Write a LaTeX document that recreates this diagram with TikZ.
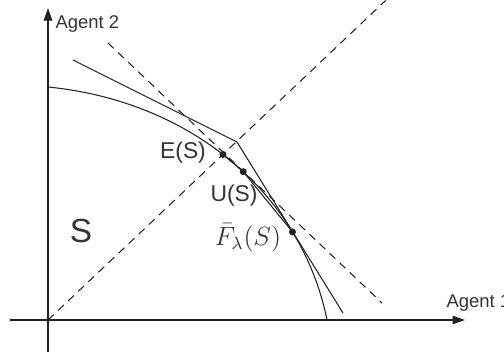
\documentclass[tikz,border=0pt]{standalone}
\usepackage{fontspec}
\setmainfont{Liberation Sans}
\usepackage{graphicx}
\usepackage{xcolor}
\usetikzlibrary{arrows.meta,positioning,calc}
\definecolor{inkgray}{HTML}{222222}
\definecolor{textgray}{HTML}{333333}

\begin{document}
\begin{tikzpicture}[
  >={Triangle[length=0.25cm,width=0.17cm]},
  line width=0.6pt,
  axis/.style={->, draw=inkgray, line width=0.8pt},
  frontier/.style={draw=inkgray, line width=0.6pt},
  guide/.style={draw=inkgray, line width=0.6pt, dash pattern=on 4.5pt off 3.4pt},
  pointdot/.style={circle, fill=inkgray, inner sep=0pt, minimum size=0.14cm},
  axislabel/.style={font=\fontsize{10.5}{12}\selectfont, text=textgray, anchor=west, inner sep=0pt},
  ptlabel/.style={font=\fontsize{13}{15}\selectfont, text=textgray, inner sep=0pt}
]
  \useasboundingbox (0,0) rectangle (10.08,7.12);
  \coordinate (O) at (0.96,0.72);
  \coordinate (xstart) at (0.20,0.72);
  \coordinate (xend) at (9.30,0.72);
  \coordinate (ystart) at (0.96,0.08);
  \coordinate (yend) at (0.96,6.96);
  \draw[axis] (xstart) -- (xend);
  \draw[axis] (ystart) -- (yend);
  \node[axislabel] (agent1) at (8.92,1.06) {Agent 1};
  \node[axislabel] (agent2) at (1.10,6.64) {Agent 2};

  \coordinate (sy) at (0.96,5.38);
  \coordinate (sx) at (6.54,0.72);
  \draw[frontier] (sy) .. controls (3.96,5.08) and (6.06,3.12) .. (sx)
    coordinate[pos=0.46] (E) coordinate[pos=0.53] (U) coordinate[pos=0.74] (F);

  \coordinate (k1) at (1.46,5.92);
  \coordinate (kink) at (4.74,4.28);
  \coordinate (k2) at (6.86,0.86);
  \draw[frontier] (k1) -- (kink) -- (k2);

  \coordinate (t1) at (2.16,6.26);
  \coordinate (t2) at (7.64,1.06);
  \draw[guide] (O) -- ($(O)!1.93!(E)$);
  \draw[guide] (t1) -- (t2);

  \draw[frontier] (E) -- (U) -- (F);
  \node[pointdot] (dE) at (E) {};
  \node[pointdot] (dU) at (U) {};
  \node[pointdot] (dF) at (F) {};

  \node[ptlabel] (lE) at (3.66,4.06) {E(S)};
  \node[ptlabel] (lU) at (4.68,3.21) {U(S)};
  \node[ptlabel, font=\fontsize{12}{14}\selectfont] (lF) at (4.96,2.36) {\scalebox{1.25}{$\bar{F}_\lambda(S)$}};
  \node[font=\fontsize{19}{22}\selectfont, text=textgray] (lS) at (1.62,2.50) {S};
\end{tikzpicture}
\end{document}
